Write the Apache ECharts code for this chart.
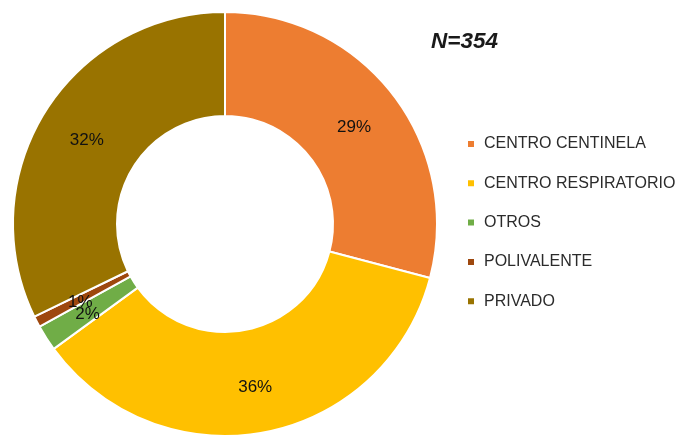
<!DOCTYPE html>
<html>
<head>
<meta charset="utf-8">
<script src="https://cdn.jsdelivr.net/npm/echarts@6/dist/echarts.min.js"></script>
<style>
  html, body { margin: 0; padding: 0; background: #fff; }
  #chart { width: 684px; height: 437px; }
</style>
</head>
<body>
<div id="chart"></div>
<script>
// Centres by type (total N = 354)
const categories = ['CENTRO CENTINELA', 'CENTRO RESPIRATORIO', 'OTROS', 'POLIVALENTE', 'PRIVADO'];
const counts = [103, 127, 7, 3, 114];
const colors = ['#ED7D31', '#FFC000', '#70AD47', '#9E480E', '#997300'];
const totalLabel = 'N=354';

const chart = echarts.init(document.getElementById('chart'));
const font = '"Liberation Sans", Arial, sans-serif';

chart.setOption({
  animation: false,
  color: colors,
  title: {
    text: totalLabel,
    left: 426,
    top: 25,
    textStyle: { fontFamily: font, fontSize: 22.5, fontWeight: 'bold', fontStyle: 'italic', color: '#1a1a1a' }
  },
  legend: {
    orient: 'vertical',
    left: 466,
    top: 135,
    padding: 0,
    icon: 'rect',
    itemWidth: 8,
    itemHeight: 8,
    itemGap: 21.3,
    data: categories,
    textStyle: { fontFamily: font, fontSize: 16, color: '#2b2b2b', lineHeight: 18, padding: [0, 0, 0, 4] }
  },
  series: [{
    type: 'pie',
    center: [225, 224],
    radius: [108, 212],
    startAngle: 90,
    clockwise: true,
    percentPrecision: 0,
    itemStyle: { borderColor: '#fff', borderWidth: 2 },
    label: {
      show: true,
      position: 'inside',
      formatter: '{d}%',
      fontFamily: font,
      fontSize: 17,
      color: '#111'
    },
    labelLayout: { hideOverlap: false, dy: 3 },
    labelLine: { show: false },
    emphasis: { disabled: true },
    data: categories.map((name, i) => ({ name, value: counts[i] }))
  }]
});
</script>
</body>
</html>
